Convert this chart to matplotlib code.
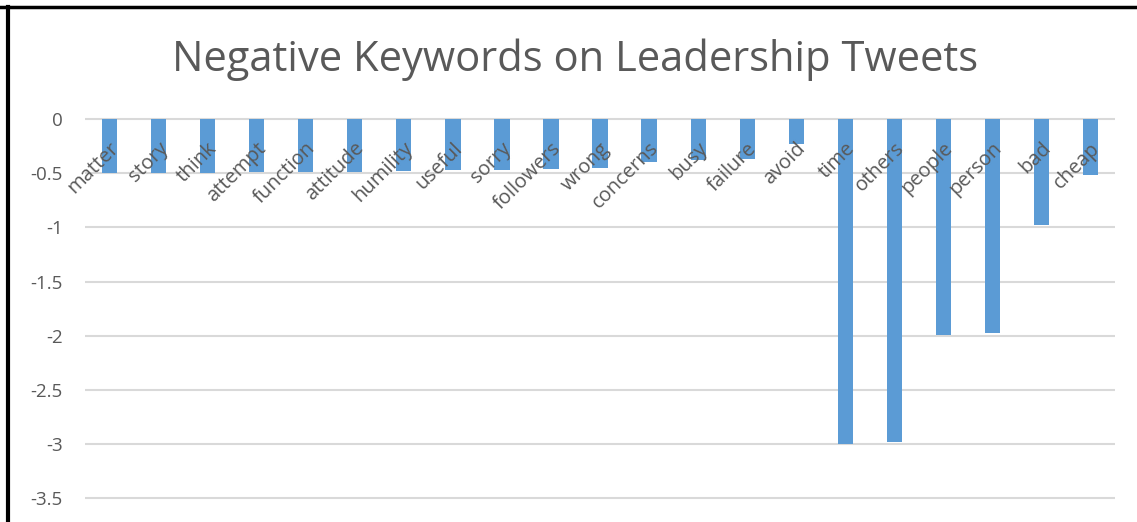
import matplotlib.pyplot as plt
from matplotlib.lines import Line2D

# keyword categories and their (negative) scores
keywords = ["matter", "story", "think", "attempt", "function", "attitude", "humility",
            "useful", "sorry", "followers", "wrong", "concerns", "busy", "failure",
            "avoid", "time", "others", "people", "person", "bad", "cheap"]
scores = [-0.50, -0.50, -0.50, -0.49, -0.49, -0.49, -0.48,
          -0.47, -0.47, -0.46, -0.45, -0.40, -0.38, -0.37,
          -0.23, -3.00, -2.98, -1.99, -1.97, -0.98, -0.52]
yticks = [0, -0.5, -1, -1.5, -2, -2.5, -3, -3.5]

plt.rcParams['font.family'] = ['Open Sans', 'DejaVu Sans']
grey = '#595959'

fig = plt.figure(figsize=(11.37, 5.22), dpi=100)
ax = fig.add_axes([0.0748, 0.0347, 0.9059, 0.7477])

x = list(range(len(keywords)))
ax.bar(x, scores, width=0.31, color='#5B9BD5', zorder=3)

ax.set_xlim(-0.5, len(keywords) - 0.5)
ax.set_ylim(-3.55, 0.05)
ax.set_yticks(yticks)
ax.set_yticklabels([f"{t:g}" for t in yticks])
ax.tick_params(axis='y', length=0, pad=16, labelsize=13.5, labelcolor=grey)
ax.set_xticks([])
for s in ax.spines.values():
    s.set_visible(False)
ax.grid(axis='y', color='#D9D9D9', linewidth=1.5, zorder=0)

for i, k in enumerate(keywords):
    ax.text(i - 0.01, -0.18, k, rotation=45, rotation_mode='anchor',
            ha='right', va='top', fontsize=14.5, color=grey, zorder=4)

fig.text(575 / 1137, 1 - 60 / 522, "Negative Keywords on Leadership Tweets",
         ha='center', va='center', fontsize=30, color=grey)

# black frame on top and left edge
fig.add_artist(Line2D([0, 1], [1 - 7 / 522] * 2, color='black', linewidth=2.5,
                      transform=fig.transFigure))
fig.add_artist(Line2D([8 / 1137] * 2, [0, 1 - 7 / 522], color='black', linewidth=3,
                      transform=fig.transFigure))

fig.savefig("out.png", dpi=100)
